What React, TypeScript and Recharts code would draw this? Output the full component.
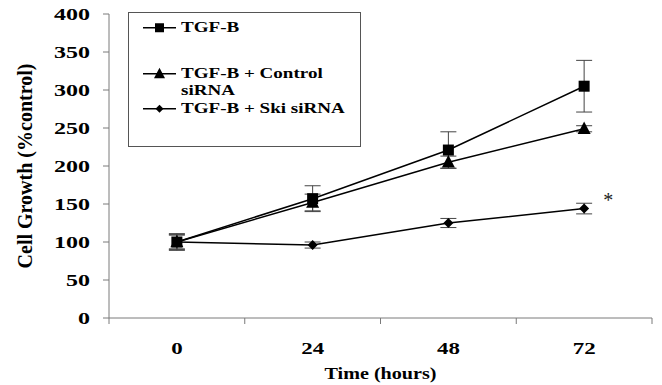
import { ErrorBar, LabelList, Legend, Line, LineChart, XAxis, YAxis } from "recharts"

// Time points (hours)
const hours = ["0", "24", "48", "72"]

// Cell growth (% control) and error bars
const tgfValues = [100, 157, 221, 305]
const tgfErrors = [11, 17, 24, 34]
const controlValues = [100, 152, 205, 249]
const controlErrors = [9, 11, 8, 4]
const skiValues = [100, 96, 125, 144]
const skiErrors = [10, 4, 6, 7]

const yTicks = [0, 50, 100, 150, 200, 250, 300, 350, 400]

const data = hours.map((h, i) => ({
  hour: h,
  tgf: tgfValues[i],
  tgfErr: tgfErrors[i],
  control: controlValues[i],
  controlErr: controlErrors[i],
  ski: skiValues[i],
  skiErr: skiErrors[i],
}))

const W = 662
const H = 385
const MARGIN = { top: 14, right: 10, left: 0, bottom: 0 }
const Y_AXIS_W = 109
const X_AXIS_H = 67
const PLOT_W = W - MARGIN.left - MARGIN.right - Y_AXIS_W

const FONT = "'Liberation Serif', 'Times New Roman', serif"
const AXIS_GREY = "#7a7a7a"

// the original figure is stretched sideways, so text gets a horizontal scale
const Stretched = ({ x, y, sx, size, anchor = "middle", children }: any) => (
  <text
    transform={`translate(${x},${y}) scale(${sx},1)`}
    textAnchor={anchor}
    fontFamily={FONT}
    fontWeight="bold"
    fontSize={size}
    fill="#000"
  >
    {children}
  </text>
)

const Square = ({ cx, cy, size = 11 }: any) =>
  cx == null ? null : <rect x={cx - size / 2} y={cy - size / 2} width={size} height={size} fill="#000" />

const Triangle = ({ cx, cy, size = 13 }: any) =>
  cx == null ? null : (
    <polygon
      points={`${cx},${cy - size * 0.55} ${cx - size / 2},${cy + size * 0.4} ${cx + size / 2},${cy + size * 0.4}`}
      fill="#000"
    />
  )

const Diamond = ({ cx, cy, size = 10 }: any) =>
  cx == null ? null : (
    <polygon
      points={`${cx},${cy - size / 2} ${cx + size / 2},${cy} ${cx},${cy + size / 2} ${cx - size / 2},${cy}`}
      fill="#000"
    />
  )

const series = [
  { key: "tgf", lines: ["TGF-B"], Marker: Square, icon: 9, gap: 0 },
  { key: "control", lines: ["TGF-B + Control", "siRNA"], Marker: Triangle, icon: 11, gap: 28 },
  { key: "ski", lines: ["TGF-B + Ski siRNA"], Marker: Diamond, icon: 8, gap: 0 },
]

const XTick = ({ x, y, payload, index }: any) => {
  const band = PLOT_W / hours.length
  const last = index === hours.length - 1
  return (
    <g>
      <line x1={x - band / 2} x2={x - band / 2} y1={y} y2={y + 6} stroke={AXIS_GREY} />
      {last && <line x1={x + band / 2} x2={x + band / 2} y1={y} y2={y + 6} stroke={AXIS_GREY} />}
      <Stretched x={x} y={y + 36} sx={1.35} size={17}>
        {payload.value}
      </Stretched>
    </g>
  )
}

const YTick = ({ x, y, payload }: any) => (
  <Stretched x={x} y={y + 5.5} sx={1.5} size={16} anchor="end">
    {payload.value}
  </Stretched>
)

const XTitle = ({ viewBox }: any) => (
  <Stretched x={viewBox.x + viewBox.width / 2} y={viewBox.y + 61} sx={1.15} size={17.5}>
    Time (hours)
  </Stretched>
)

const YTitle = ({ viewBox }: any) => {
  const cx = 25
  const cy = viewBox.y + viewBox.height / 2
  return (
    <text
      transform={`translate(${cx},${cy}) rotate(-90)`}
      textAnchor="middle"
      dominantBaseline="central"
      fontFamily={FONT}
      fontWeight="bold"
      fontSize={20}
      fill="#000"
    >
      Cell Growth (%control)
    </text>
  )
}

const renderLegend = () => (
  <div
    style={{
      border: "1px solid #555",
      boxSizing: "border-box",
      width: 233,
      height: 135,
      padding: "6px 0 0 13px",
      fontFamily: FONT,
      fontWeight: "bold",
      fontSize: 15,
      lineHeight: "17.5px",
      color: "#000",
      textAlign: "left",
    }}
  >
    {series.map((s) => (
      <div key={s.key} style={{ display: "flex", alignItems: "flex-start", marginTop: s.gap }}>
        <svg width={36} height={17.5} style={{ flex: "none" }}>
          <line x1={1} x2={34} y1={8.75} y2={8.75} stroke="#000" strokeWidth={1.5} />
          <s.Marker cx={17.5} cy={8.75} size={s.icon} />
        </svg>
        <div style={{ marginLeft: 3, whiteSpace: "nowrap", transform: "scaleX(1.27)", transformOrigin: "left" }}>
          {s.lines.map((t) => (
            <div key={t}>{t}</div>
          ))}
        </div>
      </div>
    ))}
  </div>
)

const Asterisk = ({ x, y, index }: any) =>
  index === hours.length - 1 ? (
    <text x={x + 24} y={y - 2} textAnchor="middle" fontFamily={FONT} fontSize={20} fill="#222">
      *
    </text>
  ) : null

export default function App() {
  return (
    <div style={{ position: "absolute", left: 0, top: 0, width: W, height: H, background: "#fff" }}>
      <LineChart width={W} height={H} data={data} margin={MARGIN}>
        <XAxis
          dataKey="hour"
          scale="band"
          height={X_AXIS_H}
          stroke={AXIS_GREY}
          tickLine={false}
          tickSize={0}
          tickMargin={0}
          tick={<XTick />}
          interval={0}
          label={{ content: <XTitle /> }}
        />
        <YAxis
          width={Y_AXIS_W}
          domain={[0, 400]}
          ticks={yTicks}
          interval={0}
          stroke={AXIS_GREY}
          tickSize={6}
          tickMargin={13}
          tick={<YTick />}
          label={{ content: <YTitle /> }}
        />
        <Legend
          layout="horizontal"
          verticalAlign="middle"
          align="center"
          content={renderLegend}
          wrapperStyle={{ left: 128, top: 12, width: 233, height: 135 }}
        />
        <Line dataKey="ski" stroke="#000" strokeWidth={1.5} dot={<Diamond />} activeDot={false} isAnimationActive={false}>
          <ErrorBar dataKey="skiErr" width={8} stroke="#444" strokeWidth={1} />
          <LabelList dataKey="ski" content={<Asterisk />} />
        </Line>
        <Line dataKey="control" stroke="#000" strokeWidth={1.5} dot={<Triangle />} activeDot={false} isAnimationActive={false}>
          <ErrorBar dataKey="controlErr" width={8} stroke="#444" strokeWidth={1} />
        </Line>
        <Line dataKey="tgf" stroke="#000" strokeWidth={1.5} dot={<Square />} activeDot={false} isAnimationActive={false}>
          <ErrorBar dataKey="tgfErr" width={8} stroke="#444" strokeWidth={1} />
        </Line>
      </LineChart>
    </div>
  )
}
